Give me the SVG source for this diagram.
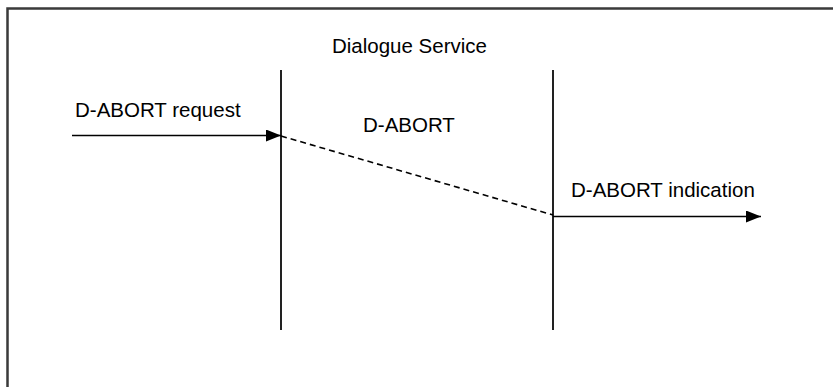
<svg xmlns="http://www.w3.org/2000/svg" width="833" height="387" viewBox="0 0 833 387">
<style>
text{font-family:"Liberation Sans",Arial,sans-serif;font-size:20.5px;fill:#000}
.life{stroke:#222;stroke-width:2;fill:none}
.msg{stroke:#000;stroke-width:1.6;fill:none}
.dash{stroke:#000;stroke-width:1.6;stroke-dasharray:6 4;fill:none}
</style>
<defs>
<marker id="ah" markerWidth="15" markerHeight="12" refX="15" refY="6" orient="auto" markerUnits="userSpaceOnUse">
<path d="M0,0 L15,6 L0,12 Z" fill="#000"/>
</marker>
</defs>
<rect width="833" height="387" fill="#fff"/>
<g id="frame"><path d="M7.5,400 V8.5 H840" fill="none" stroke="#3a3a3a" stroke-width="2.5"/></g>
<g id="title"><text x="332" y="52.5">Dialogue Service</text></g>
<g id="lifeline-left"><line class="life" x1="281" y1="70" x2="281" y2="330"/></g>
<g id="lifeline-right"><line class="life" x1="553" y1="70" x2="553" y2="330"/></g>
<g id="connectors">
<line class="msg" x1="72" y1="135.5" x2="281" y2="135.5" marker-end="url(#ah)"/>
<line class="dash" x1="281" y1="136" x2="553" y2="215"/>
<line class="msg" x1="553" y1="216.5" x2="761" y2="216.5" marker-end="url(#ah)"/>
</g>
<g id="labels">
<text x="75" y="116.5">D-ABORT request</text>
<text x="363" y="131.5">D-ABORT</text>
<text x="571" y="196.5">D-ABORT indication</text>
</g>
</svg>
